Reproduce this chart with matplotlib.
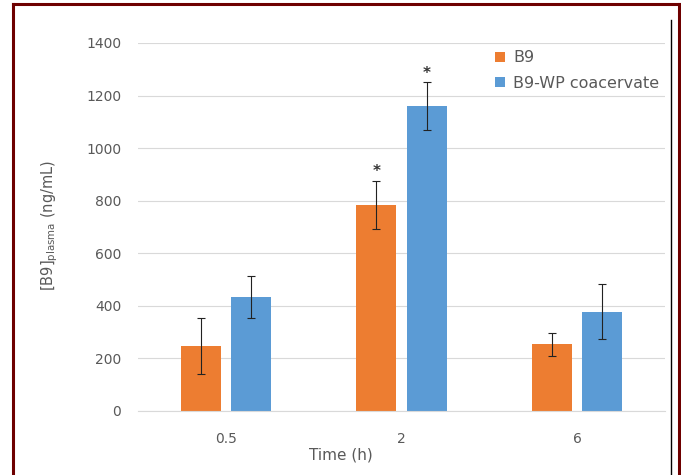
import numpy as np
from matplotlib import pyplot as plt
from matplotlib.lines import Line2D

plt.rcParams['font.family'] = ['DejaVu Sans']

times = ['0.5', '2', '6']
b9 = [247, 784, 254]
b9_err = [107, 92, 44]
coac = [432, 1160, 378]
coac_err = [80, 90, 104]
stars_b9 = ['', '*', '']
stars_coac = ['', '*', '']

orange = '#ed7d31'
blue = '#5b9bd5'
grey = '#595959'

fig = plt.figure(figsize=(6.81, 4.75), dpi=100)
ax = fig.add_axes([138/681, 1-411/475, 527/681, 368/475])

x = np.arange(len(times))
w = 0.227
off = 0.1435

ax.bar(x-off, b9, w, color=orange, label='B9', zorder=2)
ax.bar(x+off, coac, w, color=blue, label='B9-WP coacervate', zorder=2)
ax.errorbar(x-off, b9, yerr=b9_err, fmt='none', ecolor='#222222', elinewidth=0.8, capsize=3, capthick=0.8, zorder=3)
ax.errorbar(x+off, coac, yerr=coac_err, fmt='none', ecolor='#222222', elinewidth=0.8, capsize=3, capthick=0.8, zorder=3)

for i in range(len(times)):
    if stars_b9[i]:
        ax.text(x[i]-off, b9[i]+b9_err[i]+35, stars_b9[i], ha='center', va='center', fontsize=11, fontweight='bold', color='#333333')
    if stars_coac[i]:
        ax.text(x[i]+off, coac[i]+coac_err[i]+35, stars_coac[i], ha='center', va='center', fontsize=11, fontweight='bold', color='#333333')

ax.set_xlim(-0.5, 2.5)
ax.set_ylim(0, 1400)
ax.set_yticks(range(0, 1401, 200))
ax.set_xticks(x)
ax.set_xticklabels(times)
ax.grid(axis='y', color='#d9d9d9', linewidth=0.8, zorder=0)
for s in ['top', 'right', 'left']:
    ax.spines[s].set_visible(False)
ax.spines['bottom'].set_color('#d9d9d9')
ax.tick_params(axis='both', length=0, colors=grey, labelsize=10)
ax.tick_params(axis='x', pad=15)
ax.tick_params(axis='y', pad=12)

fig.text(50/681, 1-225/475, r'[B9]$_{\mathrm{plasma}}$ (ng/mL)', rotation=90, ha='center', va='center', fontsize=10.5, color=grey)
fig.text(341/681, 1-455/475, 'Time (h)', ha='center', va='center', fontsize=11, color=grey)

ax.legend(loc='upper left', bbox_to_anchor=(489/681, 1-44/475), bbox_transform=fig.transFigure,
          frameon=False, fontsize=11.5, handlelength=0.6, handleheight=0.6, handletextpad=0.5,
          labelspacing=0.65, labelcolor=grey, borderaxespad=0)

# frame round the picture
red = '#6e0000'
fig.add_artist(Line2D([13/681, 13/681], [0, 1-4/475], color=red, linewidth=2.2, transform=fig.transFigure))
fig.add_artist(Line2D([13/681, 679/681], [1-4/475, 1-4/475], color=red, linewidth=2.2, transform=fig.transFigure))
fig.add_artist(Line2D([679/681, 679/681], [0, 1-4/475], color=red, linewidth=2.2, transform=fig.transFigure))
fig.add_artist(Line2D([671/681, 671/681], [0, 1-20/475], color='black', linewidth=1, transform=fig.transFigure))

fig.savefig('out.png', dpi=100)
